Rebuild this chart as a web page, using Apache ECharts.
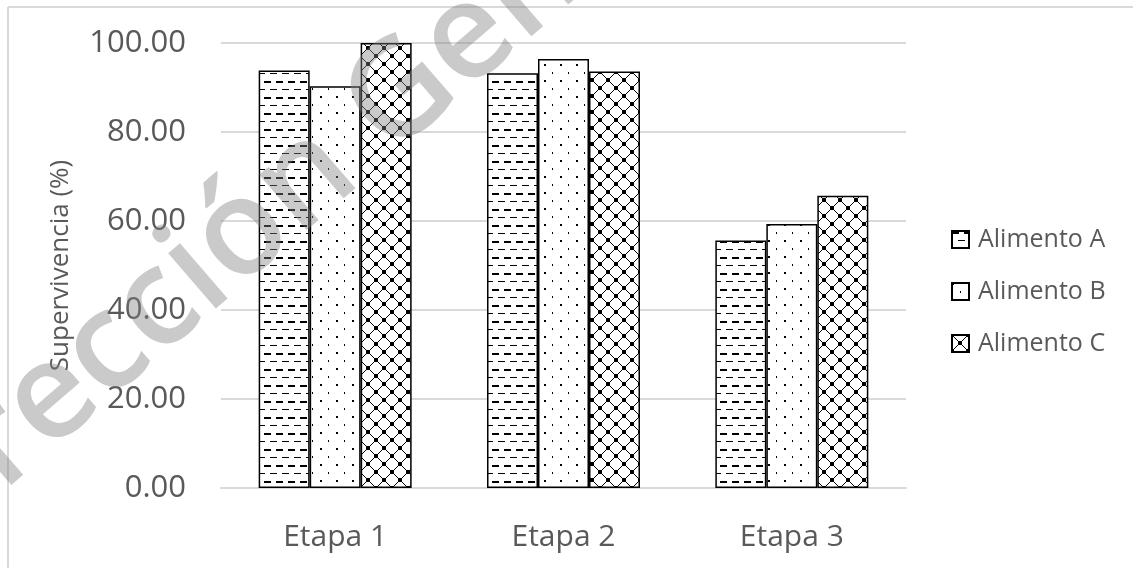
<!DOCTYPE html>
<html>
<head>
<meta charset="utf-8">
<script src="https://cdn.jsdelivr.net/npm/echarts@6/dist/echarts.min.js"></script>
<style>html,body{margin:0;padding:0;background:#fff;}#c{width:1133px;height:568px;}</style>
</head>
<body>
<div id="c"></div>
<script>
var categories = ['Etapa 1', 'Etapa 2', 'Etapa 3'];
var seriesNames = ['Alimento A', 'Alimento B', 'Alimento C'];
var alimentoA = [93.8, 93.2, 55.6];
var alimentoB = [90.3, 96.4, 59.3];
var alimentoC = [100.0, 93.6, 65.7];
var yTicks = { min: 0, max: 100, interval: 20 };

function makeTile(w, h, draw) {
  var c = document.createElement('canvas');
  c.width = w; c.height = h;
  var ctx = c.getContext('2d');
  ctx.fillStyle = '#ffffff';
  ctx.fillRect(0, 0, w, h);
  ctx.fillStyle = '#000000';
  draw(ctx);
  return c;
}
var patA = makeTile(12, 16, function (ctx) {
  ctx.fillRect(0, 1, 7, 2);
  ctx.fillRect(6, 9, 6, 1);
  ctx.fillRect(0, 9, 1, 1);
});
var patB = makeTile(16, 16, function (ctx) {
  ctx.fillRect(0, 0, 2, 2);
  ctx.fillRect(8, 8, 1, 2);
});
var patC = makeTile(16, 16, function (ctx) {
  for (var i = 0; i < 16; i++) {
    ctx.fillRect(i, i, 1, 1);
    ctx.fillRect(15 - i, i, 1, 1);
  }
  ctx.fillRect(6, 7, 4, 2);
  ctx.fillRect(7, 6, 2, 4);
  ctx.fillRect(0, 0, 2, 2); ctx.fillRect(14, 0, 2, 2);
  ctx.fillRect(0, 14, 2, 2); ctx.fillRect(14, 14, 2, 2);
});
var patterns = [patA, patB, patC];
var dataSets = [alimentoA, alimentoB, alimentoC];

var chart = echarts.init(document.getElementById('c'), null, { renderer: 'canvas' });
var font = '"Open Sans", sans-serif';
var option = {
  animation: false,
  backgroundColor: '#ffffff',
  grid: { left: 221, right: 227, top: 43, bottom: 80, containLabel: false },
  legend: {
    orient: 'vertical',
    left: 946,
    top: 222,
    itemWidth: 17,
    itemHeight: 17,
    itemGap: 27,
    icon: 'rect',
    textStyle: { fontFamily: font, fontSize: 25, color: '#595959', padding: [0, 0, 0, 4] },
    data: seriesNames
  },
  xAxis: {
    type: 'category',
    data: categories,
    axisLine: { show: true, lineStyle: { color: '#d9d9d9', width: 2 } },
    axisTick: { show: false },
    axisLabel: { fontFamily: font, fontSize: 30, color: '#595959', margin: 34 }
  },
  yAxis: {
    type: 'value',
    min: yTicks.min, max: yTicks.max, interval: yTicks.interval,
    name: 'Supervivencia (%)',
    nameLocation: 'middle',
    nameGap: 147,
    nameTextStyle: { fontFamily: font, fontSize: 26, color: '#595959' },
    axisLine: { show: false },
    axisTick: { show: false },
    splitLine: { lineStyle: { color: '#d9d9d9', width: 2 } },
    axisLabel: {
      fontFamily: font, fontSize: 31, color: '#595959', margin: 35,
      formatter: function (v) { return v.toFixed(2); }
    }
  },
  series: seriesNames.map(function (n, i) {
    return {
      name: n,
      type: 'bar',
      data: dataSets[i],
      barGap: '0%',
      barCategoryGap: '33%',
      itemStyle: {
        color: { image: patterns[i], repeat: 'repeat' },
        borderColor: '#000000',
        borderWidth: 1.5
      }
    };
  }),
  graphic: [
    { type: 'line', shape: { x1: 8, y1: 7, x2: 1133, y2: 7 }, style: { stroke: '#d9d9d9', lineWidth: 2 }, z: 100 },
    { type: 'line', shape: { x1: 8, y1: 7, x2: 8, y2: 568 }, style: { stroke: '#d9d9d9', lineWidth: 2 }, z: 100 },
    {
      type: 'text',
      x: 314, y: 173,
      rotation: 0.712,
      z: 200,
      silent: true,
      style: {
        text: 'Dirección General',
        fontFamily: font,
        fontSize: 135,
        fontWeight: 600,
        fill: 'rgba(128,128,128,0.42)',
        align: 'center',
        verticalAlign: 'middle'
      }
    }
  ]
};
chart.setOption(option);
</script>
</body>
</html>
